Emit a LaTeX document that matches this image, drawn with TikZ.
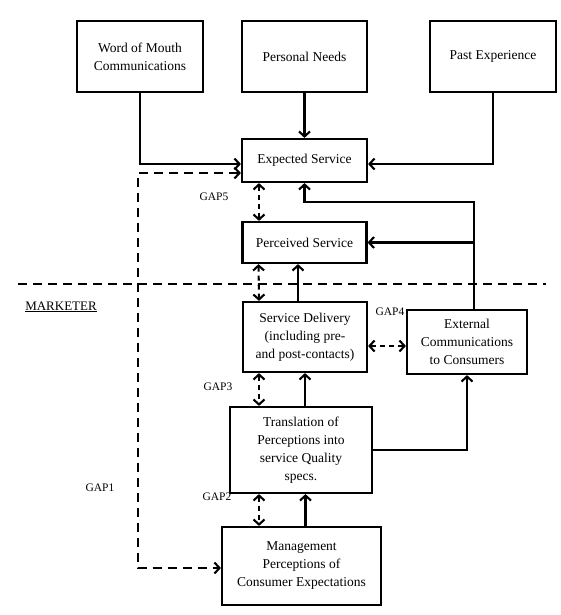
\documentclass[tikz,border=0pt]{standalone}
\usepackage{fontspec}
\setmainfont{Liberation Serif}
\usepackage{tikz}
\usetikzlibrary{positioning,arrows.meta,calc}
\tikzset{
  box/.style={draw, line width=2.2pt, align=center, inner sep=2pt, font=\fontsize{13.5}{18}\selectfont},
  arrow/.style={-{Straight Barb[length=5pt,width=11pt]}, line width=2.1pt},
  gaparrow/.style={{Straight Barb[length=5pt,width=11pt]}-{Straight Barb[length=5pt,width=11pt]}, line width=2.1pt, dash pattern=on 5pt off 4pt},
  gapline/.style={line width=2.1pt, dash pattern=on 9pt off 6pt},
  gaplabel/.style={font=\fontsize{11.5}{13}\selectfont}
}
\begin{document}
\begin{tikzpicture}[x=1pt, y=-1pt]
    \useasboundingbox (0,0) rectangle (560,615);
    \node[box, minimum width=126pt, minimum height=71pt] (wom) at (140,56.5) {Word of Mouth\\Communications};
    \node[box, minimum width=125pt, minimum height=71pt] (needs) at (304.5,56.5) {Personal Needs};
    \node[box, minimum width=126pt, minimum height=71pt] (past) at (493,56.5) {Past Experience};
    \node[box, minimum width=125pt, minimum height=43pt] (expected) at (304.5,160.5) {Expected Service};
    \node[box, minimum width=124pt, minimum height=41pt] (perceived) at (304.5,242.5) {Perceived Service};
    \node[box, minimum width=124pt, minimum height=70pt] (delivery) at (305,337) {Service Delivery\\(including pre-\\and post-contacts)};
    \node[box, minimum width=120pt, minimum height=64pt] (extcomm) at (467,342) {External\\Communications\\to Consumers};
    \node[box, minimum width=142pt, minimum height=86pt] (transl) at (301,450) {Translation of\\Perceptions into\\service Quality\\specs.};
    \node[box, minimum width=159pt, minimum height=78pt] (mgmt) at (301.5,566) {Management\\Perceptions of\\Consumer Expectations};
    \node[gaplabel] (gapfive) at (214,197) {GAP5};
    \node[gaplabel] (gapfour) at (390,312) {GAP4};
    \node[gaplabel] (gapthree) at (218,387) {GAP3};
    \node[gaplabel] (gaptwo) at (217,497) {GAP2};
    \node[gaplabel] (gapone) at (100,488) {GAP1};
    \node[font=\fontsize{13}{15}\selectfont] (marketer) at (61,307) {\underline{MARKETER}};
    \coordinate (lineleft) at (18,284);
    \coordinate (lineright) at (546,284);
    \coordinate (gapcorner) at (138,568);
    \coordinate (ecturn) at (474,202);
    \draw[gapline] (lineleft) -- (lineright);
    \draw[arrow] (wom.south) |- ([yshift=-3.5pt]expected.west);
    \draw[arrow] (needs.south) -- (expected.north);
    \draw[arrow] (past.south) |- ([yshift=-3.5pt]expected.east);
    \draw[gapline, {Straight Barb[length=5pt,width=11pt]}-{Straight Barb[length=5pt,width=11pt]}] ([yshift=-12.5pt]expected.west) -| (gapcorner) -- (gapcorner -| mgmt.west);
    \draw[gaparrow] ([xshift=-45.5pt]expected.south) -- ([xshift=-45.5pt]perceived.north);
    \draw[arrow] ([xshift=7pt]extcomm.north) -- (ecturn) -| (expected.south);
    \draw[arrow] ([xshift=7pt]extcomm.north |- perceived.east) -- (perceived.east);
    \draw[gaparrow] ([xshift=-46pt]perceived.south) -- ([xshift=-46pt]delivery.north);
    \draw[arrow] ([xshift=-7pt]delivery.north) -- ([xshift=-7pt]delivery.north |- perceived.south);
    \draw[gaparrow] ([yshift=-9pt]delivery.east) -- ([yshift=-9pt]delivery.east -| extcomm.west);
    \draw[gaparrow] ([xshift=-46pt]delivery.south) -- ([xshift=-46pt]delivery.south |- transl.north);
    \draw[arrow] ([xshift=4pt]transl.north) -- ([xshift=4pt]transl.north |- delivery.south);
    \draw[arrow] (transl.east) -| (extcomm.south);
    \draw[gaparrow] ([xshift=-42pt]transl.south) -- ([xshift=-42pt]transl.south |- mgmt.north);
    \draw[arrow] ([xshift=4pt]mgmt.north) -- ([xshift=4pt]mgmt.north |- transl.south);
  \end{tikzpicture}
\end{document}
